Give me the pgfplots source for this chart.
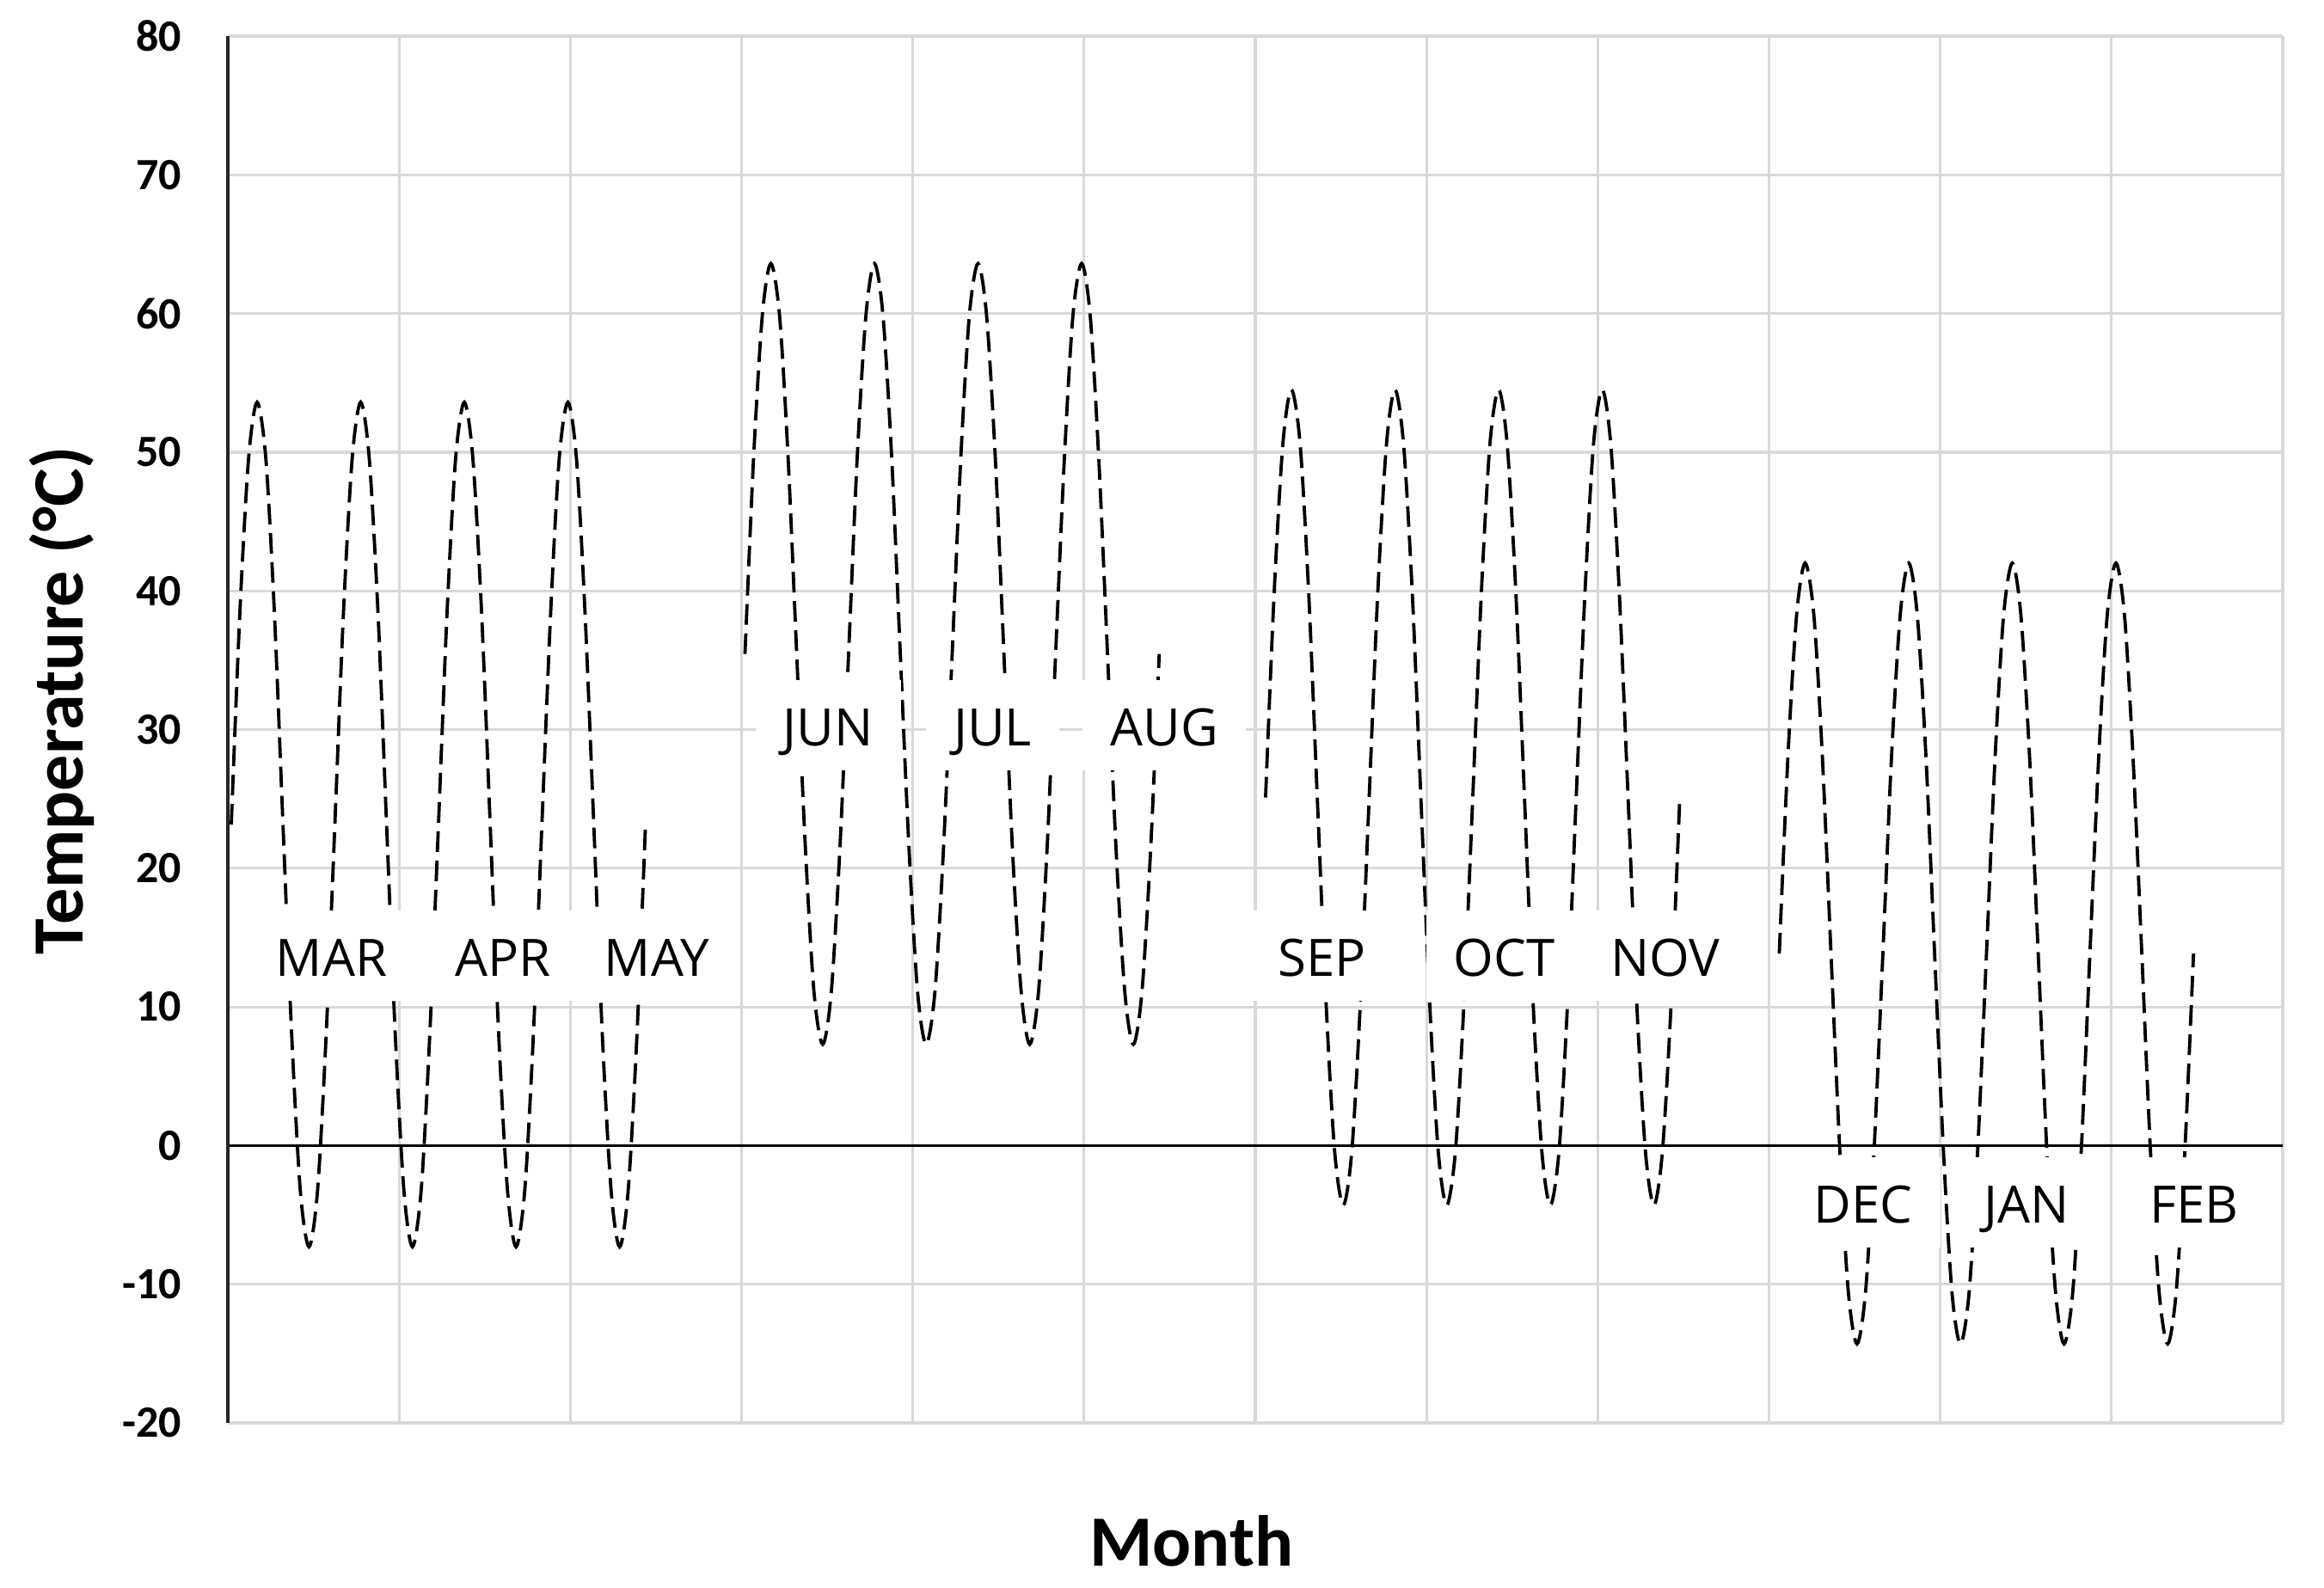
\documentclass[border=0pt]{standalone}
\usepackage{pgfplots}
\usepackage{pgfplotstable}
\pgfplotsset{compat=1.18}
\usepackage{fontspec}
\setmainfont{Carlito}
\newfontfamily\labfont{Open Sans}
\definecolor{gridgray}{RGB}{217,217,217}
\tikzset{mlab/.style={fill=white, font=\labfont\fontsize{15}{18}\selectfont, inner xsep=8pt, inner ysep=0pt, text height=19.25pt, text depth=7pt, anchor=base}}
\pgfplotsset{tcurve/.style={black, no markers, line width=0.95pt, dash pattern=on 6pt off 2.5pt, smooth}}

\pgfplotstableread{
x y
0.020 23.15
0.070 38.38
0.121 49.52
0.171 53.60
0.222 49.52
0.272 38.38
0.322 23.15
0.373 7.93
0.423 -3.22
0.474 -7.30
0.524 -3.22
0.574 7.93
0.625 23.15
0.675 38.38
0.726 49.52
0.776 53.60
0.826 49.52
0.877 38.38
0.927 23.15
0.978 7.93
1.028 -3.22
1.078 -7.30
1.129 -3.22
1.179 7.93
1.230 23.15
1.280 38.38
1.330 49.52
1.381 53.60
1.431 49.52
1.482 38.38
1.532 23.15
1.582 7.93
1.633 -3.22
1.683 -7.30
1.734 -3.22
1.784 7.93
1.834 23.15
1.885 38.38
1.935 49.52
1.986 53.60
2.036 49.52
2.086 38.38
2.137 23.15
2.187 7.93
2.238 -3.22
2.288 -7.30
2.338 -3.22
2.389 7.93
2.439 23.15
}\spring

\pgfplotstableread{
x y
3.020 35.45
3.070 49.53
3.121 59.83
3.171 63.60
3.222 59.83
3.272 49.53
3.322 35.45
3.373 21.38
3.423 11.07
3.474 7.30
3.524 11.07
3.574 21.38
3.625 35.45
3.675 49.53
3.726 59.83
3.776 63.60
3.826 59.83
3.877 49.53
3.927 35.45
3.978 21.38
4.028 11.07
4.078 7.30
4.129 11.07
4.179 21.38
4.230 35.45
4.280 49.53
4.330 59.83
4.381 63.60
4.431 59.83
4.482 49.53
4.532 35.45
4.582 21.38
4.633 11.07
4.683 7.30
4.734 11.07
4.784 21.38
4.834 35.45
4.885 49.53
4.935 59.83
4.986 63.60
5.036 59.83
5.086 49.53
5.137 35.45
5.187 21.38
5.238 11.07
5.288 7.30
5.338 11.07
5.389 21.38
5.439 35.45
}\summer

\pgfplotstableread{
x y
6.060 25.10
6.110 39.80
6.161 50.56
6.211 54.50
6.262 50.56
6.312 39.80
6.362 25.10
6.413 10.40
6.463 -0.36
6.514 -4.30
6.564 -0.36
6.614 10.40
6.665 25.10
6.715 39.80
6.766 50.56
6.816 54.50
6.866 50.56
6.917 39.80
6.967 25.10
7.018 10.40
7.068 -0.36
7.118 -4.30
7.169 -0.36
7.219 10.40
7.270 25.10
7.320 39.80
7.370 50.56
7.421 54.50
7.471 50.56
7.522 39.80
7.572 25.10
7.622 10.40
7.673 -0.36
7.723 -4.30
7.774 -0.36
7.824 10.40
7.874 25.10
7.925 39.80
7.975 50.56
8.026 54.50
8.076 50.56
8.126 39.80
8.177 25.10
8.227 10.40
8.278 -0.36
8.328 -4.30
8.378 -0.36
8.429 10.40
8.479 25.10
}\autumn

\pgfplotstableread{
x y
9.060 13.85
9.110 27.93
9.161 38.23
9.211 42.00
9.262 38.23
9.312 27.93
9.362 13.85
9.413 -0.23
9.463 -10.53
9.514 -14.30
9.564 -10.53
9.614 -0.23
9.665 13.85
9.715 27.93
9.766 38.23
9.816 42.00
9.866 38.23
9.917 27.93
9.967 13.85
10.018 -0.23
10.068 -10.53
10.118 -14.30
10.169 -10.53
10.219 -0.23
10.270 13.85
10.320 27.93
10.370 38.23
10.421 42.00
10.471 38.23
10.522 27.93
10.572 13.85
10.622 -0.23
10.673 -10.53
10.723 -14.30
10.774 -10.53
10.824 -0.23
10.874 13.85
10.925 27.93
10.975 38.23
11.026 42.00
11.076 38.23
11.126 27.93
11.177 13.85
11.227 -0.23
11.278 -10.53
11.328 -14.30
11.378 -10.53
11.429 -0.23
11.479 13.85
}\winter

\begin{document}
\begin{tikzpicture}
\useasboundingbox (0,0) rectangle (675.75pt,461.5pt);
\begin{axis}[
  at={(66.25pt,47.75pt)}, anchor=south west,
  scale only axis, width=597.5pt, height=403.25pt,
  xmin=0, xmax=12, ymin=-20, ymax=80,
  xtick={0,1,...,12}, xticklabels={},
  ytick={-20,-10,...,80},
  grid=major,
  major grid style={draw=gridgray, line width=0.8pt},
  axis x line*=middle, axis y line*=left,
  axis line style={-},
  x axis line style={black, line width=0.6pt},
  y axis line style={black!85, line width=1pt},
  major tick length=0pt,
  /pgf/number format/assume math mode=true,
  yticklabel style={font=\bfseries\fontsize{13}{15}\selectfont, inner sep=0pt, anchor=east, xshift=-13.25pt},
  xlabel={Month}, ylabel={Temperature (°C)},
  xlabel style={font=\bfseries\fontsize{21}{25}\selectfont, at={(axis description cs:0.469,-0.085)}, anchor=center},
  ylabel style={font=\bfseries\fontsize{21}{25}\selectfont, at={(axis description cs:-0.0808,0.521)}, anchor=center},
  clip=false,
]
\addplot[tcurve] table[x=x,y=y] {\spring};
\addplot[tcurve] table[x=x,y=y] {\summer};
\addplot[tcurve] table[x=x,y=y] {\autumn};
\addplot[tcurve] table[x=x,y=y] {\winter};

\node[mlab] at (axis cs:0.605,12.2) {MAR};
\node[mlab] at (axis cs:1.607,12.2) {APR};
\node[mlab] at (axis cs:2.505,12.2) {MAY};
\node[mlab] at (axis cs:3.505,28.8) {JUN};
\node[mlab] at (axis cs:4.466,28.8) {JUL};
\node[mlab] at (axis cs:5.468,28.8) {AUG};
\node[mlab] at (axis cs:6.389,12.2) {SEP};
\node[mlab] at (axis cs:7.453,12.2) {OCT};
\node[mlab] at (axis cs:8.393,12.2) {NOV};
\node[mlab] at (axis cs:9.550,-5.6) {DEC};
\node[mlab] at (axis cs:10.506,-5.6) {JAN};
\node[mlab] at (axis cs:11.483,-5.6) {FEB};
\end{axis}
\end{tikzpicture}
\end{document}
